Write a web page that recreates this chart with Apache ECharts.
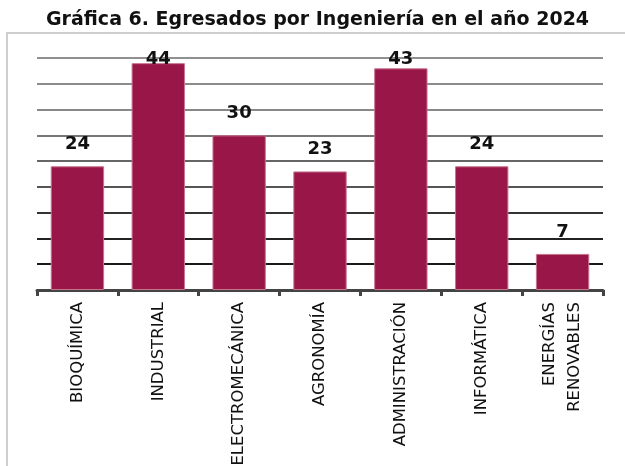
<!DOCTYPE html>
<html>
<head>
<meta charset="utf-8">
<script src="https://cdn.jsdelivr.net/npm/echarts@6/dist/echarts.min.js"></script>
<style>
  html, body { margin: 0; padding: 0; background: #fff; }
  #chart { width: 625px; height: 466px; }
</style>
</head>
<body>
<div id="chart"></div>
<script>
const carreras = ["BIOQUÍMICA", "INDUSTRIAL", "ELECTROMECÁNICA", "AGRONOMÍA",
  "ADMINISTRACIÓN", "INFORMÁTICA", "ENERGÍAS\nRENOVABLES"];
const egresados = [24, 44, 30, 23, 43, 24, 7];

// grid lines get darker towards the bottom
const gridColors = ["#333", "#1a1a1a", "#222", "#333", "#555", "#666", "#777", "#888", "#8c8c8c", "#909090"];

// labels of the tallest bars sit closer so they stay inside the plot
const barData = egresados.map(function(v) {
  return v > 40 ? { value: v, label: { distance: v > 43 ? -5 : 0 } } : v;
});

const chart = echarts.init(document.getElementById("chart"));

chart.setOption({
  animation: false,
  title: {
    text: "Gráfica 6. Egresados por Ingeniería en el año 2024",
    left: 41,
    top: 6,
    textStyle: {
      fontFamily: "DejaVu Sans",
      fontWeight: "bold",
      fontSize: 19,
      color: "#111"
    }
  },
  graphic: [
    {
      type: "rect",
      shape: { x: 7, y: 33, width: 700, height: 500 },
      style: { fill: "none", stroke: "#cfcfcf", lineWidth: 2 },
      silent: true,
      z: -1
    }
  ],
  grid: {
    left: 37,
    right: 22,
    top: 58,
    bottom: 176,
    outerBoundsMode: "none"  // long label runs off the bottom like the original
  },
  xAxis: {
    type: "category",
    data: carreras,
    axisLine: { lineStyle: { color: "#444", width: 3 } },
    axisTick: { show: true, length: 6, lineStyle: { color: "#444", width: 3 } },
    axisLabel: {
      rotate: 90,
      interval: 0,
      margin: 12,
      fontFamily: "DejaVu Sans",
      fontSize: 16.5,
      lineHeight: 25,
      color: "#111"
    }
  },
  yAxis: {
    type: "value",
    min: 0,
    max: 45,
    interval: 5,
    axisLabel: { show: false },
    axisLine: { show: false },
    axisTick: { show: false },
    splitLine: { lineStyle: { color: gridColors, width: 2 } }
  },
  series: [
    {
      type: "bar",
      data: barData,
      barWidth: "66%",
      itemStyle: {
        color: "#981748",
        borderColor: "#c9748f",
        borderWidth: 1
      },
      label: {
        show: true,
        position: "top",
        distance: 13,
        fontFamily: "DejaVu Sans",
        fontWeight: "bold",
        fontSize: 18,
        color: "#111"
      }
    }
  ]
});
</script>
</body>
</html>
